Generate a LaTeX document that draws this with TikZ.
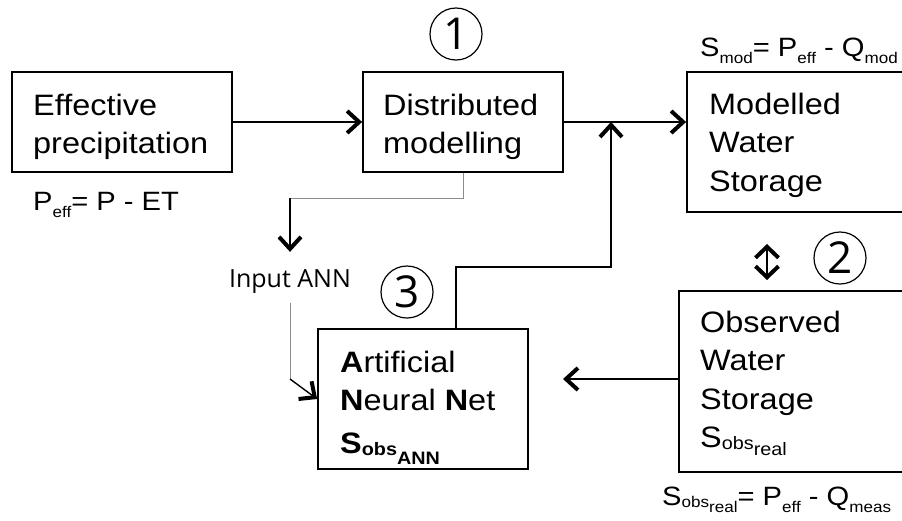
\documentclass[tikz,border=0pt]{standalone}
\usepackage{fontspec}
\setmainfont{Liberation Sans}[FakeStretch=1.1]
\newfontfamily\osans{Open Sans}
\usetikzlibrary{arrows.meta}
\newcommand{\sbx}[2][7]{\raisebox{-#1pt}{\fontsize{18}{18}\selectfont #2}}
\newcommand{\fsb}[2][7]{\raisebox{-#1pt}{\fontsize{15.5}{16}\selectfont #2}}
\begin{document}
\begin{tikzpicture}[x=1pt,y=-1pt,
  box/.style={draw, line width=1.8pt, rectangle, inner sep=0pt},
  txt/.style={anchor=north west, align=left, inner sep=0pt, font=\fontsize{29.5}{38.5}\selectfont},
  frm/.style={anchor=base west, inner sep=0pt, font=\fontsize{26.5}{30}\selectfont},
  num/.style={circle, draw, line width=1.2pt, minimum size=52pt, inner sep=0pt, font=\osans\fontsize{44}{44}\selectfont},
  tip/.style={-{Straight Barb[length=12pt,width=22pt,line width=4pt]}},
  arr/.style={tip, line width=2pt},
  thin/.style={line width=1.4pt},
  grayline/.style={line width=1pt, draw=black!45}]
\clip (0,0) rectangle (902,520);
% boxes
\node[box, minimum width=220pt, minimum height=100pt] (eff) at (122,122) {};
\node[box, minimum width=200pt, minimum height=100pt] (dist) at (463,122) {};
\node[box, minimum width=218pt, minimum height=140pt] (mod) at (796,142) {};
\node[box, minimum width=226pt, minimum height=181pt] (obs) at (792,381.5) {};
\node[box, minimum width=210pt, minimum height=140pt] (ann) at (423,399) {};
% box texts
\node[txt] (efft) at (33,93.5) {Effective\\precipitation};
\node[txt] (distt) at (383,93.5) {Distributed\\modelling};
\node[txt] (modt) at (709,92.5) {Modelled\\Water\\Storage};
\node[txt] (obst) at (700,310.5) {Observed\\Water\\Storage\\S\sbx[2]{obs}\sbx[8]{real}};
\node[txt] (annt) at (340,350.5) {\textbf{A}rtificial\\\textbf{N}eural \textbf{N}et\\[4pt]\textbf{S\sbx[2]{obs}\sbx[11]{ANN}}};
% formulas
\node[frm] (f1) at (33,210) {P\fsb{eff}= P - ET};
\node[frm] (f2) at (700,56) {S\fsb{mod}= P\fsb{eff} - Q\fsb{mod}};
\node[frm] (f3) at (662,505) {S\fsb[2]{obs}\fsb[7]{real}= P\fsb{eff} - Q\fsb{meas}};
% numbers
\node[num] (n1) at (456,34) {1};
\node[num] (n2) at (840,258) {2};
\node[num] (n3) at (407,292) {3};
% input ANN
\node[inner sep=0pt, font=\osans\fontsize{25}{25}\selectfont] (inp) at (290,282) {Input ANN};
% coordinates
\coordinate (j) at (611,122);
\coordinate (g1) at (290,198);
\coordinate (g2) at (290,379);
\coordinate (o1) at (563,379);
\coordinate (d1) at (767,244);
\coordinate (d2) at (767,280);
% connectors
\draw[arr] (eff.east) -- (dist.west);
\draw[arr] (dist.east) -- (dist.east -| mod.west);
\draw[thin, tip] ([xshift=33pt]ann.north) -- ++(0,-61) -| (j);
\draw[grayline] (dist.south) |- (g1);
\draw[thin, tip, shorten >=18pt] (g1) -- (inp.north);
\draw[grayline, shorten <=9pt] (inp.south) -- (g2);
\draw[thin, tip] (g2) -- (ann.west);
\draw[arr] (o1 -| obs.west) -- (o1);
\draw[line width=2pt, {Straight Barb[length=11pt,width=23pt,line width=4pt]}-{Straight Barb[length=11pt,width=23pt,line width=4pt]}] (d1) -- (d2);
\end{tikzpicture}
\end{document}
